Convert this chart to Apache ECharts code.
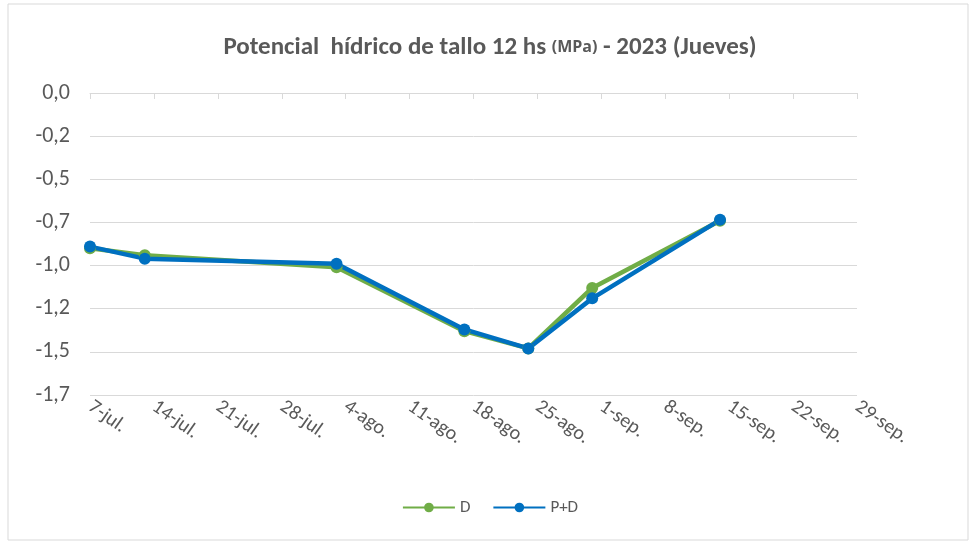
<!DOCTYPE html>
<html><head><meta charset="utf-8">
<script src="https://cdn.jsdelivr.net/npm/echarts@6/dist/echarts.min.js"></script>
<style>html,body{margin:0;padding:0;background:#fff}#c{width:980px;height:545px}</style>
</head><body><div id="c"></div>
<script>
const xTickLabels = ['7-jul.','14-jul.','21-jul.','28-jul.','4-ago.','11-ago.','18-ago.','25-ago.','1-sep.','8-sep.','15-sep.','22-sep.','29-sep.'];
const yTickLabels = {'0':'0,0','-0.25':'-0,2','-0.5':'-0,5','-0.75':'-0,7','-1':'-1,0','-1.25':'-1,2','-1.5':'-1,5','-1.75':'-1,7'};
const days = [0, 6, 27, 41, 48, 55, 69]; // days since 7-jul
const seriesD = [-0.90, -0.94, -1.01, -1.38, -1.48, -1.13, -0.74];
const seriesPD = [-0.89, -0.96, -0.99, -1.37, -1.48, -1.19, -0.735];

const chart = echarts.init(document.getElementById('c'));
const font = 'Calibri, Carlito, "Liberation Sans", "Open Sans", sans-serif';
chart.setOption({
  animation:false,
  graphic:[{type:'rect',shape:{x:8,y:4,width:960,height:536},style:{fill:'none',stroke:'#d9d9d9',lineWidth:1}}],
  title:{text:'{b|Potencial  hídrico de tallo 12 hs }{s|(MPa)}{b| - 2023 (Jueves)}',left:'center',top:30,
    textStyle:{rich:{b:{fontSize:25,fontWeight:'bold',color:'#595959',fontFamily:font},s:{fontSize:16,color:'#595959',fontFamily:'"Open Sans", sans-serif'}}}},
  legend:{bottom:24,left:'center',itemWidth:52,itemHeight:12,itemGap:22,textStyle:{fontSize:17,color:'#595959',fontFamily:font},
    data:['D','P+D']},
  grid:{left:90,right:123,top:93,bottom:150,containLabel:false},
  xAxis:{type:'value',min:0,max:84,interval:7,
    axisLine:{show:true,lineStyle:{color:'#d9d9d9'}},axisTick:{show:true,length:6,lineStyle:{color:'#d9d9d9'}},
    splitLine:{show:false},
    axisLabel:{rotate:-35,fontSize:20,color:'#595959',fontFamily:font,margin:10,align:'left',
      formatter:v=>xTickLabels[Math.round(v/7)]||''}},
  yAxis:{type:'value',min:-1.75,max:0,interval:0.25,
    axisLine:{show:false},axisTick:{show:false},
    splitLine:{lineStyle:{color:'#d9d9d9'}},
    axisLabel:{fontSize:22,color:'#595959',fontFamily:font,margin:20,formatter:v=>yTickLabels[String(+v.toFixed(2))]||''}},
  series:[
    {name:'D',type:'line',data:days.map((d,i)=>[d,seriesD[i]]),color:'#70ad47',lineStyle:{width:4.5},symbol:'circle',symbolSize:12},
    {name:'P+D',type:'line',data:days.map((d,i)=>[d,seriesPD[i]]),color:'#0070c0',lineStyle:{width:4.5},symbol:'circle',symbolSize:12}
  ]
});
</script></body></html>
